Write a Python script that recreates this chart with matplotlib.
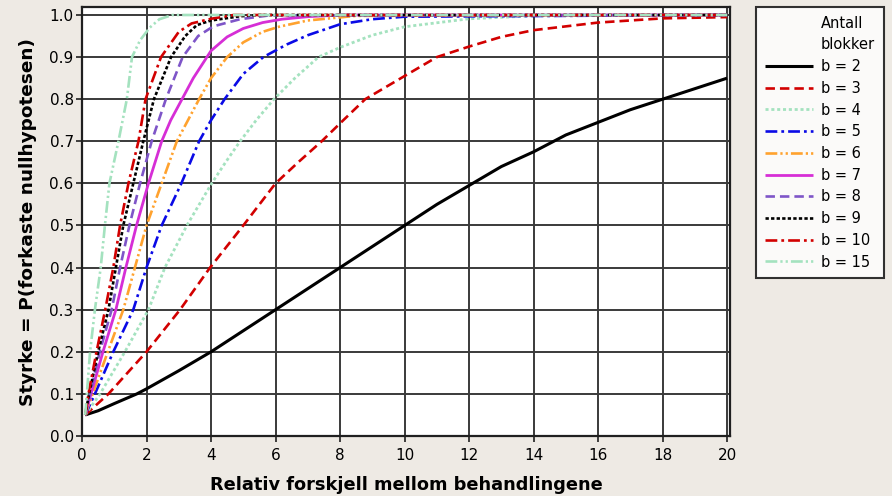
import matplotlib
matplotlib.use("Agg")
import matplotlib.pyplot as plt
from matplotlib.lines import Line2D

plt.rcParams['font.family'] = ['DejaVu Sans']
plt.rcParams['lines.scale_dashes'] = False

# ---- data ----
labels = ["b = 2", "b = 3", "b = 4", "b = 5", "b = 6", "b = 7", "b = 8", "b = 9", "b = 10", "b = 15"]

x_b2 = [0.1, 0.5, 1.0, 1.7, 2.0, 3.0, 4.0, 5.0, 6.0, 7.0, 8.0, 9.0, 10.0, 11.0, 12.0, 13.0, 14.0, 15.0, 16.0, 17.0, 18.0, 19.0, 20.0]
y_b2 = [0.05, 0.06, 0.077, 0.1, 0.112, 0.155, 0.2, 0.25, 0.3, 0.35, 0.4, 0.45, 0.5, 0.55, 0.595, 0.64, 0.675, 0.715, 0.745, 0.775, 0.8, 0.825, 0.85]

x_b3 = [0.1, 0.82, 2.0, 3.04, 3.97, 5.0, 6.0, 6.7, 7.43, 8.1, 8.78, 10.0, 11.0, 12.0, 13.0, 14.0, 16.0, 18.0, 20.0]
y_b3 = [0.05, 0.1, 0.2, 0.3, 0.4, 0.5, 0.6, 0.65, 0.7, 0.75, 0.8, 0.855, 0.9, 0.925, 0.948, 0.964, 0.982, 0.992, 0.995]

x_b4 = [0.1, 0.56, 1.33, 2.06, 2.57, 3.25, 4.02, 4.45, 4.9, 5.4, 5.95, 6.6, 7.33, 8.0, 9.0, 10.0, 12.0, 14.0, 20.0]
y_b4 = [0.05, 0.1, 0.2, 0.3, 0.4, 0.5, 0.6, 0.65, 0.7, 0.75, 0.8, 0.85, 0.9, 0.923, 0.952, 0.972, 0.991, 0.998, 1.0]

x_b5 = [0.1, 0.4, 0.97, 1.59, 2.0, 2.47, 3.08, 3.63, 4.0, 4.42, 5.0, 5.62, 6.35, 7.0, 8.0, 9.0, 10.0, 20.0]
y_b5 = [0.05, 0.1, 0.2, 0.3, 0.4, 0.5, 0.6, 0.7, 0.75, 0.8, 0.86, 0.9, 0.93, 0.952, 0.978, 0.99, 0.996, 1.0]

x_b6 = [0.1, 0.33, 0.8, 1.28, 1.64, 2.0, 2.47, 2.94, 3.63, 4.0, 4.5, 5.0, 5.6, 6.1, 7.0, 8.5, 20.0]
y_b6 = [0.05, 0.1, 0.2, 0.3, 0.4, 0.5, 0.6, 0.7, 0.8, 0.85, 0.9, 0.935, 0.96, 0.972, 0.987, 0.998, 1.0]

x_b7 = [0.1, 0.28, 0.65, 1.05, 1.36, 1.69, 2.06, 2.47, 2.75, 3.1, 3.45, 4.0, 4.5, 5.0, 5.6, 6.2, 7.0, 8.0, 20.0]
y_b7 = [0.05, 0.1, 0.2, 0.3, 0.4, 0.5, 0.6, 0.7, 0.75, 0.8, 0.85, 0.915, 0.948, 0.968, 0.982, 0.99, 0.996, 1.0, 1.0]

x_b8 = [0.1, 0.25, 0.55, 0.92, 1.18, 1.47, 1.8, 2.16, 2.6, 3.12, 3.6, 4.07, 4.9, 5.8, 20.0]
y_b8 = [0.05, 0.1, 0.2, 0.3, 0.4, 0.5, 0.6, 0.7, 0.8, 0.9, 0.95, 0.973, 0.99, 0.999, 1.0]

x_b9 = [0.1, 0.22, 0.5, 0.82, 1.05, 1.28, 1.59, 1.9, 2.23, 2.76, 3.2, 3.56, 4.0, 4.9, 5.5, 20.0]
y_b9 = [0.05, 0.1, 0.2, 0.3, 0.4, 0.5, 0.6, 0.7, 0.8, 0.9, 0.95, 0.976, 0.987, 0.997, 1.0, 1.0]

x_b10 = [0.1, 0.2, 0.45, 0.72, 0.97, 1.18, 1.44, 1.75, 1.97, 2.45, 3.0, 3.4, 4.0, 4.7, 20.0]
y_b10 = [0.05, 0.1, 0.2, 0.3, 0.4, 0.5, 0.6, 0.7, 0.8, 0.9, 0.96, 0.98, 0.991, 1.0, 1.0]

x_b15 = [0.1, 0.15, 0.25, 0.4, 0.58, 0.71, 0.85, 1.13, 1.39, 1.55, 1.8, 2.1, 2.4, 2.8, 20.0]
y_b15 = [0.05, 0.1, 0.2, 0.3, 0.4, 0.5, 0.6, 0.7, 0.8, 0.9, 0.94, 0.97, 0.99, 1.0, 1.0]

xs = [x_b2, x_b3, x_b4, x_b5, x_b6, x_b7, x_b8, x_b9, x_b10, x_b15]
ys = [y_b2, y_b3, y_b4, y_b5, y_b6, y_b7, y_b8, y_b9, y_b10, y_b15]

x_ticks = [0, 2, 4, 6, 8, 10, 12, 14, 16, 18, 20]
y_ticks = [0.0, 0.1, 0.2, 0.3, 0.4, 0.5, 0.6, 0.7, 0.8, 0.9, 1.0]

# ---- styles ----
red = "#d20000"
lgreen = "#a4e2bf"
styles = [
    dict(color="black", lw=2.2, ls="-"),
    dict(color=red, lw=1.9, ls=(0, (6.8, 3.6))),
    dict(color=lgreen, lw=2.0, ls=(0, (2.2, 2.0))),
    dict(color="#0a0ae6", lw=1.9, ls=(0, (8.5, 2.9, 2.0, 2.9))),
    dict(color="#ffa22e", lw=1.9, ls=(0, (8.5, 2.2, 1.6, 2.2, 1.6, 2.2))),
    dict(color="#d62ed6", lw=2.0, ls="-"),
    dict(color="#7e55c8", lw=1.9, ls=(0, (6.8, 3.6))),
    dict(color="black", lw=1.9, ls=(0, (2.4, 1.6))),
    dict(color=red, lw=1.9, ls=(0, (8.5, 2.9, 2.0, 2.9))),
    dict(color=lgreen, lw=1.9, ls=(0, (8.5, 2.2, 1.6, 2.2, 1.6, 2.2))),
]

bg = "#eeeae4"
fig = plt.figure(figsize=(8.92, 4.96), dpi=100, facecolor=bg)
ax = fig.add_axes([82 / 892, 1 - 436 / 496, (730 - 82) / 892, (436 - 7) / 496])
ax.set_facecolor("white")

handles = []
for x, y, st, lab in zip(xs, ys, styles, labels):
    h, = ax.plot(x, y, label=lab, solid_capstyle="butt", dash_capstyle="butt", **st)
    handles.append(h)

ax.set_xlim(0, 20.09)
ax.set_ylim(0, 1.019)
ax.set_xticks(x_ticks)
ax.set_yticks(y_ticks)
ax.set_yticklabels([f"{v:.1f}" for v in y_ticks])
ax.set_xticklabels([str(v) for v in x_ticks])
ax.grid(True, color="#3a3a3a", lw=1.4)
ax.set_axisbelow(True)
for s in ax.spines.values():
    s.set_color("#202020")
    s.set_linewidth(1.6)
ax.tick_params(direction="out", length=4, width=1.2, color="#202020", labelsize=11)
ax.tick_params(axis="y", pad=2)
ax.tick_params(axis="x", pad=5)

ax.set_xlabel("Relativ forskjell mellom behandlingene", fontsize=12.8, fontweight="bold", labelpad=9)
ax.set_ylabel("Styrke = P(forkaste nullhypotesen)", fontsize=13.3, fontweight="bold", labelpad=9)

blank = Line2D([], [], color="none")
leg = fig.legend([blank, blank] + handles, ["Antall", "blokker"] + labels,
                 loc="upper left", bbox_to_anchor=(756 / 892, 1 - 7 / 496),
                 fontsize=10.5, frameon=True, fancybox=False, edgecolor="black",
                 handlelength=3.3, handletextpad=0.55, labelspacing=0.46,
                 borderpad=0.6, borderaxespad=0.0)
leg.get_frame().set_linewidth(1.5)
leg.get_frame().set_facecolor("white")

fig.savefig("out.png", dpi=100, facecolor=bg)
